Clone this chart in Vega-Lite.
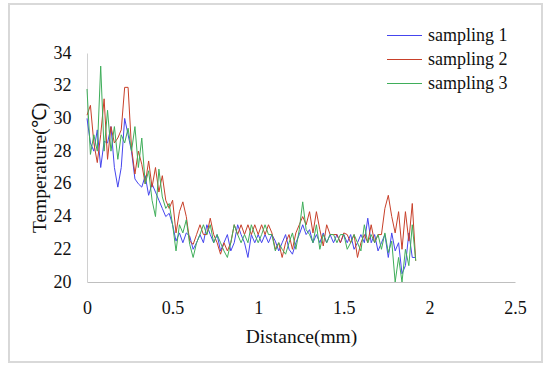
{
  "$schema": "https://vega.github.io/schema/vega-lite/v6.json",
  "width": 428,
  "height": 229,
  "autosize": {"type": "none"},
  "padding": {"left": 87, "top": 53, "right": 35, "bottom": 87},
  "background": "white",
  "config": {
    "view": {"stroke": null},
    "font": "Liberation Serif",
    "axis": {"grid": false, "ticks": false, "labelOverlap": false, "labelFont": "Liberation Serif", "titleFont": "Liberation Serif", "labelColor": "#111", "titleColor": "#111", "titleFontWeight": "normal", "labelFontSize": 18, "titleFontSize": 19.5}
  },
  "data": {"values": [
    {"d":0.00,"s1":30.0,"s2":30.2,"s3":31.8},
    {"d":0.02,"s1":28.5,"s2":30.8,"s3":27.8},
    {"d":0.04,"s1":28.0,"s2":28.5,"s3":29.0},
    {"d":0.06,"s1":29.3,"s2":27.3,"s3":28.0},
    {"d":0.08,"s1":27.0,"s2":29.0,"s3":33.2},
    {"d":0.10,"s1":28.6,"s2":31.2,"s3":28.0},
    {"d":0.12,"s1":28.5,"s2":27.5,"s3":30.5},
    {"d":0.14,"s1":29.5,"s2":29.5,"s3":28.0},
    {"d":0.16,"s1":27.0,"s2":28.5,"s3":29.5},
    {"d":0.18,"s1":25.8,"s2":28.8,"s3":27.5},
    {"d":0.20,"s1":27.0,"s2":29.3,"s3":29.0},
    {"d":0.22,"s1":30.0,"s2":31.9,"s3":28.5},
    {"d":0.24,"s1":29.0,"s2":31.9,"s3":29.4},
    {"d":0.26,"s1":28.0,"s2":28.2,"s3":28.0},
    {"d":0.28,"s1":26.3,"s2":26.6,"s3":29.5},
    {"d":0.30,"s1":26.0,"s2":28.0,"s3":27.0},
    {"d":0.32,"s1":25.8,"s2":27.2,"s3":28.8},
    {"d":0.34,"s1":26.5,"s2":26.0,"s3":26.0},
    {"d":0.36,"s1":25.3,"s2":27.4,"s3":26.8},
    {"d":0.38,"s1":26.0,"s2":25.8,"s3":25.0},
    {"d":0.40,"s1":25.5,"s2":27.0,"s3":24.0},
    {"d":0.42,"s1":25.0,"s2":25.5,"s3":26.9},
    {"d":0.44,"s1":24.5,"s2":26.5,"s3":25.2},
    {"d":0.46,"s1":24.0,"s2":25.0,"s3":24.5},
    {"d":0.48,"s1":24.2,"s2":24.5,"s3":24.8},
    {"d":0.50,"s1":23.5,"s2":25.0,"s3":23.5},
    {"d":0.52,"s1":22.5,"s2":23.0,"s3":21.9},
    {"d":0.54,"s1":23.0,"s2":24.3,"s3":23.5},
    {"d":0.56,"s1":22.4,"s2":24.9,"s3":23.0},
    {"d":0.58,"s1":23.0,"s2":24.0,"s3":23.8},
    {"d":0.60,"s1":22.8,"s2":22.5,"s3":22.3},
    {"d":0.62,"s1":22.0,"s2":22.3,"s3":21.5},
    {"d":0.64,"s1":22.4,"s2":22.9,"s3":22.4},
    {"d":0.66,"s1":22.9,"s2":23.5,"s3":22.9},
    {"d":0.68,"s1":22.4,"s2":22.9,"s3":23.5},
    {"d":0.70,"s1":23.5,"s2":22.9,"s3":22.9},
    {"d":0.72,"s1":22.9,"s2":23.9,"s3":23.5},
    {"d":0.74,"s1":22.4,"s2":22.9,"s3":22.4},
    {"d":0.76,"s1":22.9,"s2":22.4,"s3":22.9},
    {"d":0.78,"s1":21.9,"s2":21.7,"s3":22.4},
    {"d":0.80,"s1":22.4,"s2":22.4,"s3":21.9},
    {"d":0.82,"s1":22.9,"s2":21.9,"s3":21.5},
    {"d":0.84,"s1":21.9,"s2":22.4,"s3":22.4},
    {"d":0.86,"s1":22.4,"s2":23.5,"s3":23.5},
    {"d":0.88,"s1":23.5,"s2":22.9,"s3":22.9},
    {"d":0.90,"s1":22.9,"s2":23.5,"s3":22.4},
    {"d":0.92,"s1":22.4,"s2":22.9,"s3":22.9},
    {"d":0.94,"s1":21.5,"s2":23.5,"s3":22.4},
    {"d":0.96,"s1":22.9,"s2":22.9,"s3":23.5},
    {"d":0.98,"s1":22.4,"s2":23.5,"s3":22.9},
    {"d":1.00,"s1":22.9,"s2":22.9,"s3":22.4},
    {"d":1.02,"s1":22.4,"s2":23.5,"s3":22.9},
    {"d":1.04,"s1":22.9,"s2":22.9,"s3":23.5},
    {"d":1.06,"s1":22.4,"s2":23.5,"s3":22.9},
    {"d":1.08,"s1":22.9,"s2":23.0,"s3":22.9},
    {"d":1.10,"s1":22.5,"s2":22.0,"s3":21.9},
    {"d":1.12,"s1":21.9,"s2":22.4,"s3":22.4},
    {"d":1.14,"s1":22.4,"s2":21.5,"s3":22.0},
    {"d":1.16,"s1":22.9,"s2":22.4,"s3":21.7},
    {"d":1.18,"s1":22.0,"s2":22.9,"s3":22.4},
    {"d":1.20,"s1":21.7,"s2":22.0,"s3":23.0},
    {"d":1.22,"s1":22.4,"s2":23.0,"s3":22.0},
    {"d":1.24,"s1":22.9,"s2":23.5,"s3":23.2},
    {"d":1.26,"s1":23.5,"s2":24.0,"s3":24.9},
    {"d":1.28,"s1":22.9,"s2":23.5,"s3":23.2},
    {"d":1.30,"s1":23.2,"s2":24.3,"s3":22.9},
    {"d":1.32,"s1":22.4,"s2":23.0,"s3":22.4},
    {"d":1.34,"s1":22.9,"s2":24.3,"s3":23.5},
    {"d":1.36,"s1":22.4,"s2":23.2,"s3":22.0},
    {"d":1.38,"s1":23.0,"s2":22.2,"s3":22.9},
    {"d":1.40,"s1":22.4,"s2":23.5,"s3":22.4},
    {"d":1.42,"s1":22.9,"s2":22.9,"s3":22.9},
    {"d":1.44,"s1":22.4,"s2":22.9,"s3":22.9},
    {"d":1.46,"s1":22.9,"s2":22.9,"s3":22.4},
    {"d":1.48,"s1":22.4,"s2":22.4,"s3":22.9},
    {"d":1.50,"s1":22.9,"s2":23.0,"s3":22.9},
    {"d":1.52,"s1":22.4,"s2":22.9,"s3":22.0},
    {"d":1.54,"s1":22.9,"s2":22.4,"s3":22.4},
    {"d":1.56,"s1":22.0,"s2":22.9,"s3":22.9},
    {"d":1.58,"s1":22.4,"s2":21.5,"s3":22.4},
    {"d":1.60,"s1":22.9,"s2":22.4,"s3":21.9},
    {"d":1.62,"s1":22.4,"s2":22.9,"s3":23.5},
    {"d":1.64,"s1":23.9,"s2":22.4,"s3":22.4},
    {"d":1.66,"s1":22.4,"s2":23.5,"s3":22.9},
    {"d":1.68,"s1":22.9,"s2":22.4,"s3":22.4},
    {"d":1.70,"s1":21.9,"s2":22.9,"s3":22.9},
    {"d":1.72,"s1":22.4,"s2":22.9,"s3":22.0},
    {"d":1.74,"s1":22.9,"s2":24.5,"s3":23.0},
    {"d":1.76,"s1":21.5,"s2":25.3,"s3":21.8},
    {"d":1.78,"s1":23.0,"s2":24.0,"s3":22.5},
    {"d":1.80,"s1":21.9,"s2":23.0,"s3":20.0},
    {"d":1.82,"s1":22.4,"s2":24.3,"s3":21.5},
    {"d":1.84,"s1":20.5,"s2":22.0,"s3":20.0},
    {"d":1.86,"s1":21.0,"s2":24.3,"s3":22.0},
    {"d":1.88,"s1":23.0,"s2":22.5,"s3":21.0},
    {"d":1.90,"s1":21.5,"s2":24.8,"s3":23.5},
    {"d":1.92,"s1":21.5,"s2":21.3,"s3":21.3}
  ]},
  "layer": [
    {
      "mark": {"type": "rect", "fill": null, "stroke": "#d9d9d9", "strokeWidth": 1.5, "clip": false},
      "encoding": {
        "x": {"datum": -0.456, "type": "quantitative"},
        "x2": {"datum": 2.658},
        "y": {"datum": 37.0, "type": "quantitative"},
        "y2": {"datum": 15.11}
      }
    },
    {
      "transform": [
        {"fold": ["s1", "s2", "s3"], "as": ["key", "temp"]},
        {"lookup": "key", "from": {"data": {"values": [
          {"key": "s1", "series": "sampling 1"},
          {"key": "s2", "series": "sampling 2"},
          {"key": "s3", "series": "sampling 3"}
        ]}, "key": "key", "fields": ["series"]}}
      ],
      "mark": {"type": "line", "strokeWidth": 1},
      "encoding": {
        "x": {"field": "d", "type": "quantitative", "scale": {"domain": [0, 2.5], "nice": false}, "axis": {"values": [0, 0.5, 1, 1.5, 2, 2.5], "format": "~g", "title": "Distance(mm)", "labelPadding": 17, "titlePadding": 10, "labelFlush": false, "labelOverlap": false, "domainColor": "#bfbfbf"}},
        "y": {"field": "temp", "type": "quantitative", "scale": {"domain": [20, 34], "nice": false, "zero": false}, "axis": {"values": [20, 22, 24, 26, 28, 30, 32, 34], "tickCount": 8, "title": "Temperature(℃)", "labelPadding": 16, "titlePadding": 4, "domainColor": "#d0d0d0", "labelFlush": false, "labelOverlap": false}},
        "color": {"field": "series", "type": "nominal", "scale": {"domain": ["sampling 1", "sampling 2", "sampling 3"], "range": ["#4545ee", "#c8402a", "#3fae5a"]},
          "legend": {"title": null, "orient": "none", "legendX": 308, "legendY": -27, "symbolType": "M-2,0H2", "symbolSize": 306, "symbolStrokeWidth": 1.2, "labelFont": "Liberation Serif", "labelFontSize": 18, "labelColor": "#111", "labelOffset": 14, "rowPadding": 5}},
        "detail": {"field": "series"}
      }
    }
  ]
}
